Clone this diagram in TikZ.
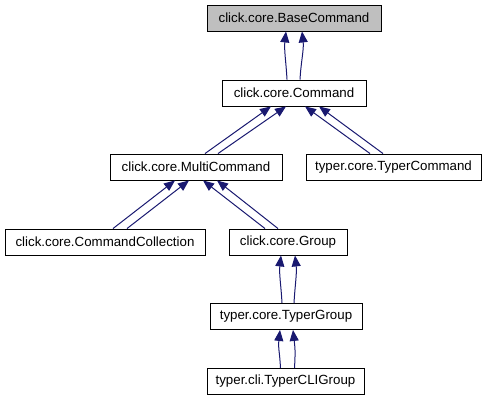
\documentclass[tikz,border=0pt]{standalone}
\usepackage{fontspec}
\setmainfont{Liberation Sans}
\usetikzlibrary{arrows.meta,calc}
\definecolor{edgeblue}{HTML}{191970}
\definecolor{basegray}{HTML}{BFBFBF}
\tikzset{
  cls/.style={draw=black, line width=0.9pt, fill=white, minimum height=26pt, inner sep=0pt,
    font=\fontsize{13.3}{16}\selectfont, anchor=center},
  inh/.style={draw=edgeblue, line width=1pt, {Triangle[length=11pt,width=9pt]}-}
}
\begin{document}
\begin{tikzpicture}[x=1pt,y=-1pt]
\useasboundingbox (0,0) rectangle (486,411);
\node[cls, fill=basegray, minimum width=174pt] (base) at (294,18) {click.core.BaseCommand};
\node[cls, minimum width=144pt] (cmd) at (294,93) {click.core.Command};
\node[cls, minimum width=172pt] (mc) at (196,167) {click.core.MultiCommand};
\node[cls, minimum width=175pt] (tc) at (393.5,167) {typer.core.TyperCommand};
\node[cls, minimum width=200pt] (cc) at (105,242) {click.core.CommandCollection};
\node[cls, minimum width=118pt] (grp) at (288,242) {click.core.Group};
\node[cls, minimum width=152pt] (tg) at (286,316.5) {typer.core.TyperGroup};
\node[cls, minimum width=157pt] (cli) at (285.5,381.5) {typer.cli.TyperCLIGroup};
% base <- cmd
\draw[inh] ($(base.south)+(-8,0)$) .. controls +(-2,18) and +(-1,-18) .. ($(cmd.north)+(-7,0)$);
\draw[inh] ($(base.south)+(8,0)$) .. controls +(2,18) and +(1,-18) .. ($(cmd.north)+(6,0)$);
% cmd <- mc
\draw[inh] ($(cmd.south)+(-23,0)$) -- ($(mc.north)+(9,0)$);
\draw[inh] ($(cmd.south)+(-8,0)$) -- ($(mc.north)+(22,0)$);
% cmd <- tc
\draw[inh] ($(cmd.south)+(11,0)$) -- ($(tc.north)+(-23.5,0)$);
\draw[inh] ($(cmd.south)+(25,0)$) -- ($(tc.north)+(-10.5,0)$);
% mc <- cc
\draw[inh] ($(mc.south)+(-21,0)$) -- ($(cc.north)+(8,0)$);
\draw[inh] ($(mc.south)+(-7,0)$) -- ($(cc.north)+(22,0)$);
% mc <- grp
\draw[inh] ($(mc.south)+(7,0)$) -- ($(grp.north)+(-23,0)$);
\draw[inh] ($(mc.south)+(21,0)$) -- ($(grp.north)+(-10,0)$);
% grp <- tg
\draw[inh] ($(grp.south)+(-7,0)$) .. controls +(-2,18) and +(-1,-18) .. ($(tg.north)+(-4,0)$);
\draw[inh] ($(grp.south)+(7,0)$) .. controls +(2,18) and +(1,-18) .. ($(tg.north)+(8,0)$);
% tg <- cli
\draw[inh] ($(tg.south)+(-6,0)$) .. controls +(-2,18) and +(-1,-18) .. ($(cli.north)+(-5,0)$);
\draw[inh] ($(tg.south)+(7,0)$) .. controls +(2,18) and +(1,-18) .. ($(cli.north)+(9,0)$);
\end{tikzpicture}
\end{document}
